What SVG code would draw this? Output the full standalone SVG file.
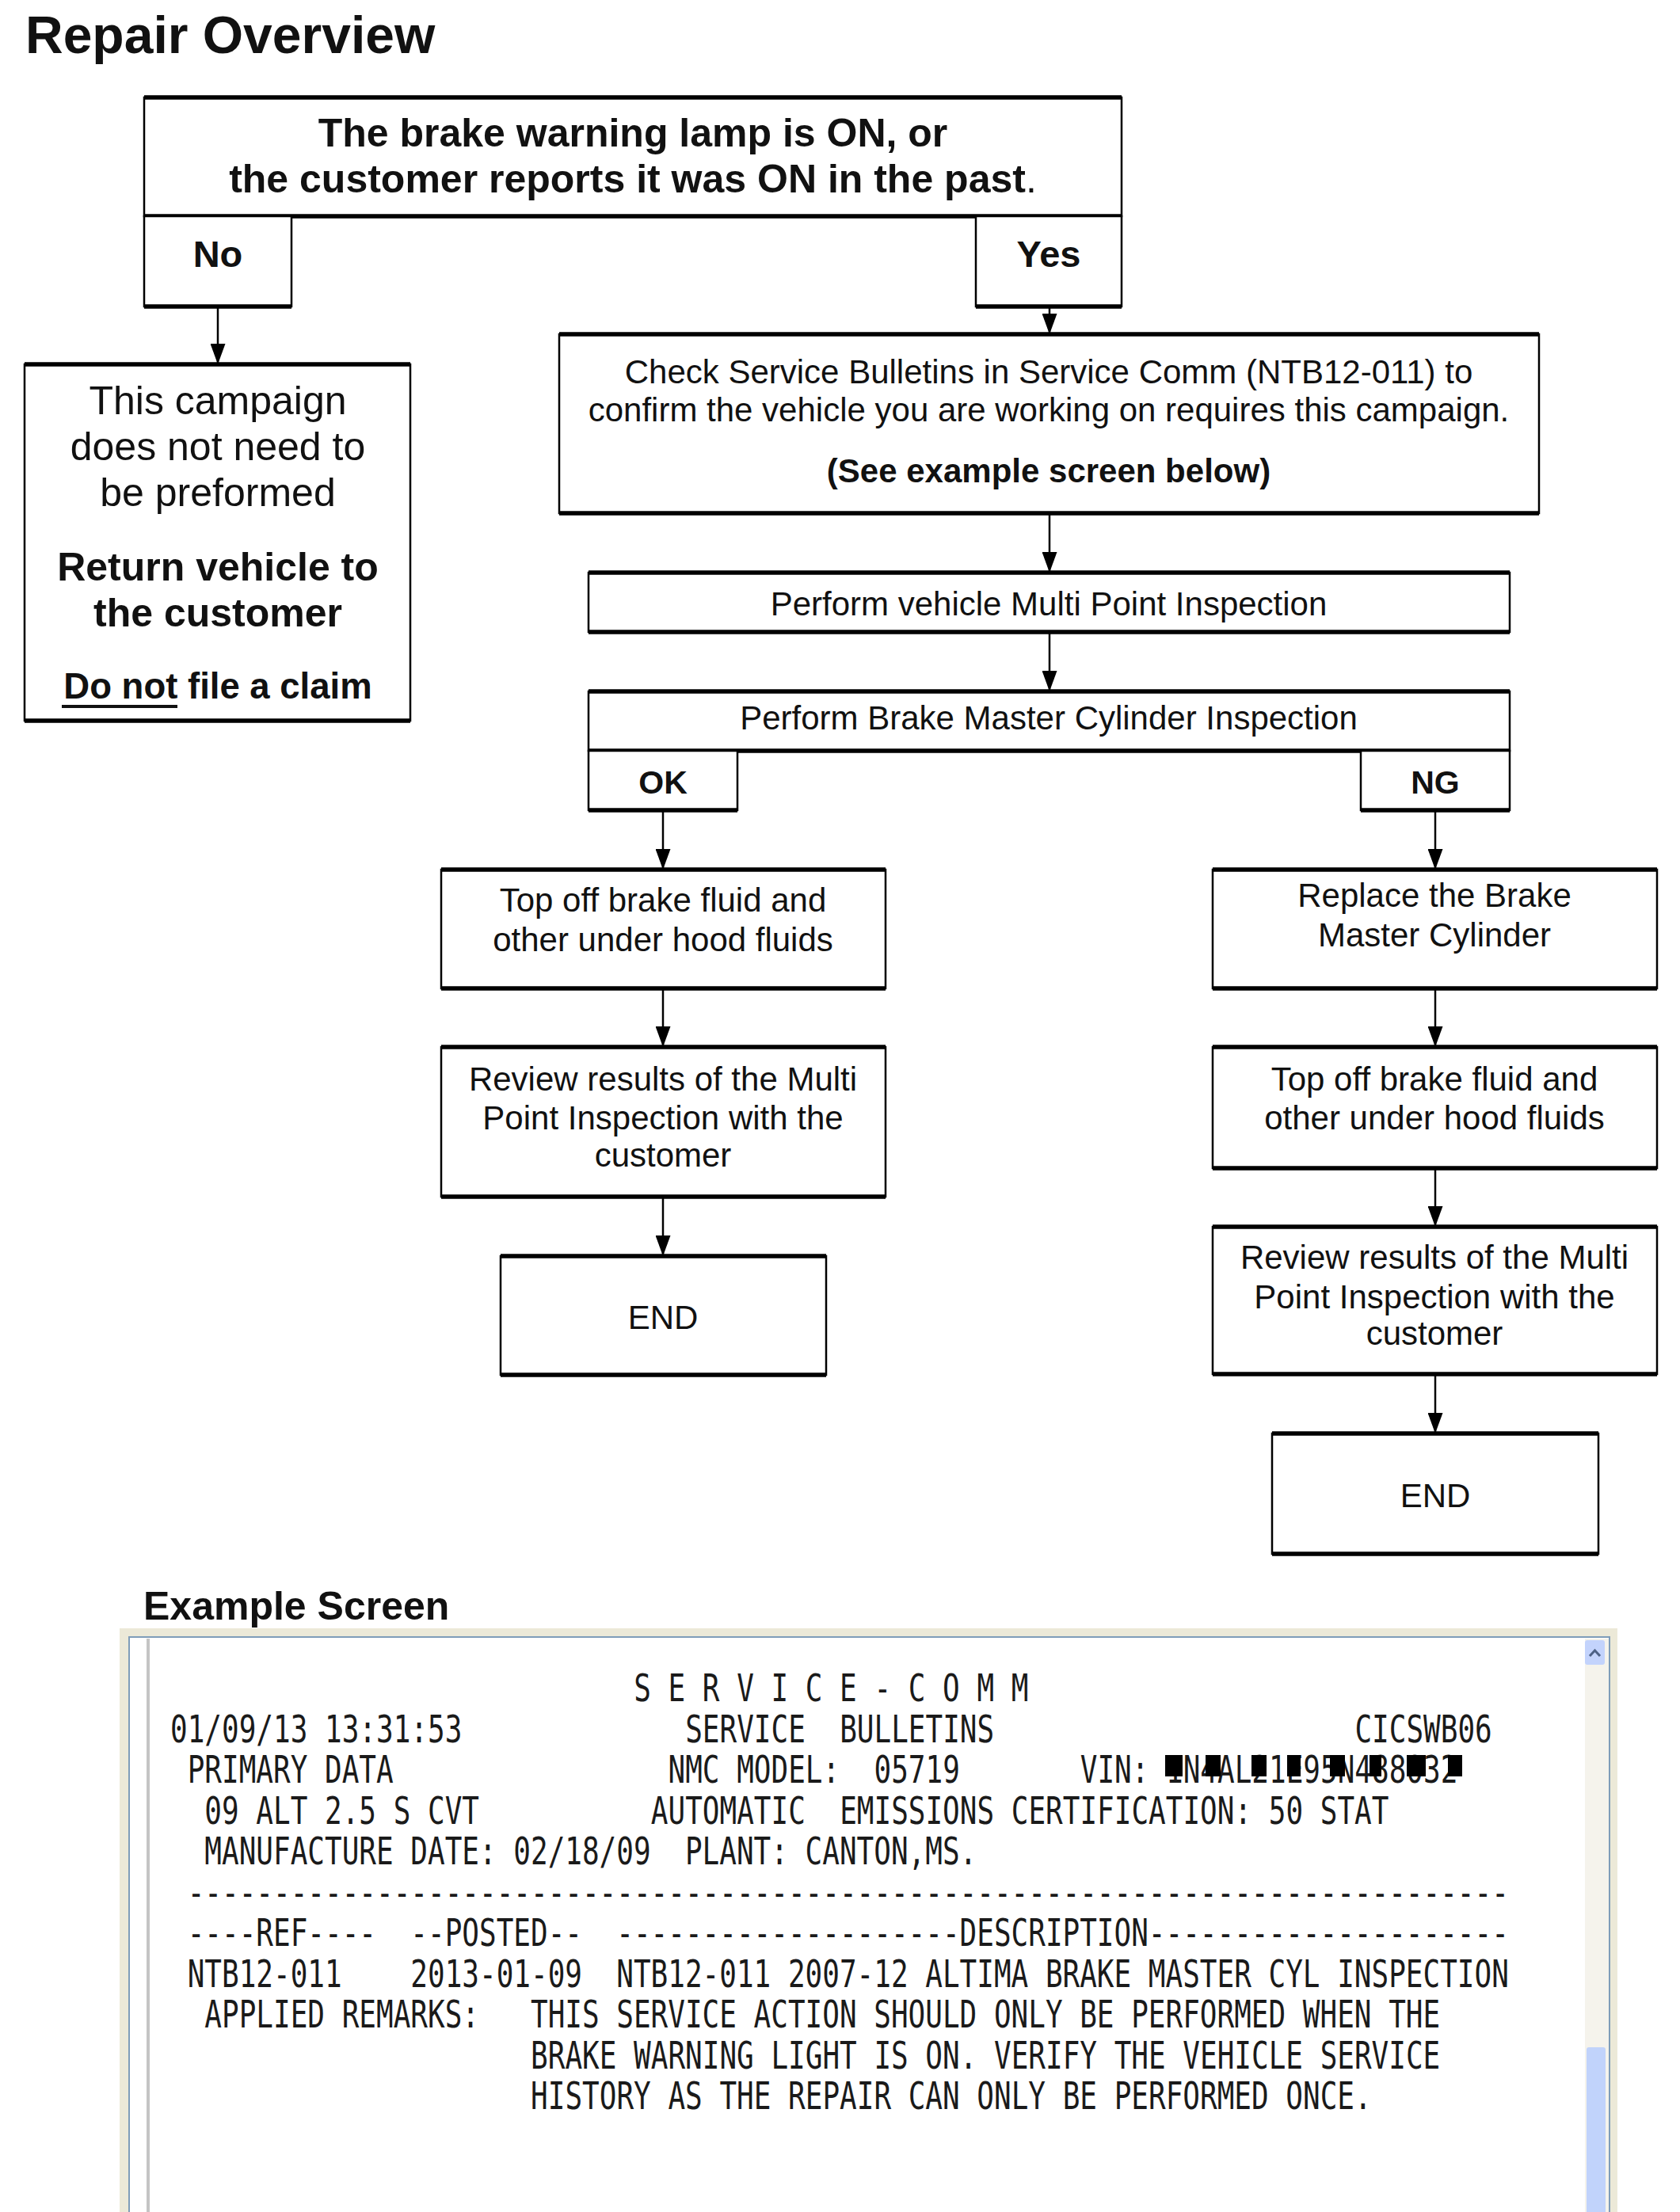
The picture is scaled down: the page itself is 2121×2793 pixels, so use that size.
<svg xmlns="http://www.w3.org/2000/svg" width="2121" height="2793" viewBox="0 0 2121 2793">
<style>
.box{fill:#fff;stroke:#000;stroke-width:2.5}
.edge{fill:none;stroke:#000;stroke-width:5.5}
.t{font-family:"Liberation Sans",Arial,sans-serif;fill:#111;text-anchor:middle}
.b{font-weight:bold}
.f42{font-size:42px}
.f50{font-size:50px}
.con{stroke:#000;stroke-width:2.5;fill:none;marker-end:url(#arr)}
.mono{font-family:"DejaVu Sans Mono","Liberation Mono",monospace;font-size:48px;fill:#1a1a1a;white-space:pre}
</style>
<defs>
<marker id="arr" viewBox="0 0 26 19" refX="26" refY="9.5" markerWidth="26" markerHeight="19" markerUnits="userSpaceOnUse" orient="auto">
<path d="M0,0 L26,9.5 L0,19 z" fill="#000"/>
</marker>
</defs>
<rect width="2121" height="2793" fill="#fff"/>
<text x="32" y="67" font-family="Liberation Sans,Arial,sans-serif" font-size="66" font-weight="bold" fill="#111">Repair Overview</text>

<g id="connectors">
<line class="con" x1="275" y1="387" x2="275" y2="460"/>
<line class="con" x1="1325" y1="387" x2="1325" y2="422"/>
<line class="con" x1="1325" y1="648" x2="1325" y2="723"/>
<line class="con" x1="1325" y1="798" x2="1325" y2="873"/>
<line class="con" x1="837" y1="1023" x2="837" y2="1098"/>
<line class="con" x1="1812" y1="1023" x2="1812" y2="1098"/>
<line class="con" x1="837" y1="1248" x2="837" y2="1322"/>
<line class="con" x1="837" y1="1511" x2="837" y2="1586"/>
<line class="con" x1="1812" y1="1248" x2="1812" y2="1322"/>
<line class="con" x1="1812" y1="1475" x2="1812" y2="1549"/>
<line class="con" x1="1812" y1="1735" x2="1812" y2="1810"/>
</g>

<g id="n-lamp">
<rect class="box" x="182" y="123" width="1234" height="150"/>
<path class="edge" d="M182,123 H1416 M182,273 H1416"/>
<text class="t b f50" x="799" y="185">The brake warning lamp is ON, or</text>
<text class="t b f50" x="799" y="243">the customer reports it was ON in the past<tspan font-weight="normal">.</tspan></text>
</g>
<g id="n-no">
<rect class="box" x="182" y="273" width="186" height="114"/>
<path class="edge" d="M182,387 H368"/>
<text class="t b" font-size="47" x="275" y="337">No</text>
</g>
<g id="n-yes">
<rect class="box" x="1232" y="273" width="184" height="114"/>
<path class="edge" d="M1232,387 H1416"/>
<text class="t b" font-size="47" x="1324" y="337">Yes</text>
</g>

<g id="n-notneeded">
<rect class="box" x="31" y="460" width="487" height="450"/>
<path class="edge" d="M31,460 H518 M31,910 H518"/>
<text class="t f50" x="275" y="523">This campaign</text>
<text class="t f50" x="275" y="581">does not need to</text>
<text class="t f50" x="275" y="639">be preformed</text>
<text class="t b f50" x="275" y="733">Return vehicle to</text>
<text class="t b f50" x="275" y="791">the customer</text>
<text class="t b" font-size="45.5" x="275" y="882">Do not file a claim</text>
<line x1="78" y1="892" x2="224" y2="892" stroke="#111" stroke-width="4"/>
</g>

<g id="n-check">
<rect class="box" x="706" y="422" width="1237" height="226"/>
<path class="edge" d="M706,422 H1943 M706,648 H1943"/>
<text class="t f42" x="1324" y="484">Check Service Bulletins in Service Comm (NTB12-011) to</text>
<text class="t f42" x="1324" y="532">confirm the vehicle you are working on requires this campaign.</text>
<text class="t b f42" x="1324" y="609">(See example screen below)</text>
</g>

<g id="n-mpi">
<rect class="box" x="743" y="723" width="1163" height="75"/>
<path class="edge" d="M743,723 H1906 M743,798 H1906"/>
<text class="t f42" x="1324" y="777">Perform vehicle Multi Point Inspection</text>
</g>

<g id="n-bmc">
<rect class="box" x="743" y="873" width="1163" height="75"/>
<path class="edge" d="M743,873 H1906 M743,948 H1906"/>
<text class="t f42" x="1324" y="921">Perform Brake Master Cylinder Inspection</text>
</g>
<g id="n-ok">
<rect class="box" x="743" y="948" width="188" height="75"/>
<path class="edge" d="M743,1023 H931"/>
<text class="t b" font-size="41" x="837" y="1002">OK</text>
</g>
<g id="n-ng">
<rect class="box" x="1718" y="948" width="188" height="75"/>
<path class="edge" d="M1718,1023 H1906"/>
<text class="t b" font-size="41" x="1812" y="1002">NG</text>
</g>

<g id="n-l-topoff">
<rect class="box" x="557" y="1098" width="561" height="150"/>
<path class="edge" d="M557,1098 H1118 M557,1248 H1118"/>
<text class="t f42" x="837" y="1151">Top off brake fluid and</text>
<text class="t f42" x="837" y="1201">other under hood fluids</text>
</g>
<g id="n-l-review">
<rect class="box" x="557" y="1322" width="561" height="189"/>
<path class="edge" d="M557,1322 H1118 M557,1511 H1118"/>
<text class="t f42" x="837" y="1377">Review results of the Multi</text>
<text class="t f42" x="837" y="1426">Point Inspection with the</text>
<text class="t f42" x="837" y="1473">customer</text>
</g>
<g id="n-l-end">
<rect class="box" x="632" y="1586" width="411" height="150"/>
<path class="edge" d="M632,1586 H1043 M632,1736 H1043"/>
<text class="t f42" x="837" y="1678">END</text>
</g>

<g id="n-r-replace">
<rect class="box" x="1531" y="1098" width="561" height="150"/>
<path class="edge" d="M1531,1098 H2092 M1531,1248 H2092"/>
<text class="t f42" x="1811" y="1145">Replace the Brake</text>
<text class="t f42" x="1811" y="1195">Master Cylinder</text>
</g>
<g id="n-r-topoff">
<rect class="box" x="1531" y="1322" width="561" height="153"/>
<path class="edge" d="M1531,1322 H2092 M1531,1475 H2092"/>
<text class="t f42" x="1811" y="1377">Top off brake fluid and</text>
<text class="t f42" x="1811" y="1426">other under hood fluids</text>
</g>
<g id="n-r-review">
<rect class="box" x="1531" y="1549" width="561" height="186"/>
<path class="edge" d="M1531,1549 H2092 M1531,1735 H2092"/>
<text class="t f42" x="1811" y="1602">Review results of the Multi</text>
<text class="t f42" x="1811" y="1652">Point Inspection with the</text>
<text class="t f42" x="1811" y="1698">customer</text>
</g>
<g id="n-r-end">
<rect class="box" x="1606" y="1810" width="412" height="152"/>
<path class="edge" d="M1606,1810 H2018 M1606,1962 H2018"/>
<text class="t f42" x="1812" y="1903">END</text>
</g>

<g id="example-screen">
<text x="181" y="2045" font-family="Liberation Sans,Arial,sans-serif" font-size="50" font-weight="bold" fill="#111">Example Screen</text>
<rect x="151" y="2056" width="1891" height="760" fill="#ece9d8"/>
<rect x="163" y="2067" width="1869" height="760" fill="#fff" stroke="#7f9db9" stroke-width="2"/>
<rect x="185" y="2069" width="4" height="740" fill="#c4c4c4"/>
<rect x="2001" y="2069" width="30" height="740" fill="#f5f3ec"/>
<rect x="2001" y="2071" width="25" height="31" rx="3" fill="#c3d3fc"/>
<path d="M2007,2091 L2013.5,2084 L2020,2091" fill="none" stroke="#4d6185" stroke-width="3"/>
<rect x="2003" y="2585" width="24" height="230" rx="3" fill="#c1d3fb"/>
<g transform="scale(0.75,1)" class="mono">
<text xml:space="preserve" x="1066.9" y="2148">S E R V I C E - C O M M</text>
<text xml:space="preserve" x="286.7" y="2200">01/09/13 13:31:53</text>
<text xml:space="preserve" x="1153.6" y="2200">SERVICE  BULLETINS</text>
<text xml:space="preserve" x="2280.6" y="2200">CICSWB06</text>
<text xml:space="preserve" x="315.6" y="2251">PRIMARY DATA</text>
<text xml:space="preserve" x="1124.7" y="2251">NMC MODEL:  05719</text>
<text xml:space="preserve" x="1818.3" y="2251">VIN: 1N4AL21E95N488032</text>
<text xml:space="preserve" x="344.5" y="2303">09 ALT 2.5 S CVT</text>
<text xml:space="preserve" x="1095.8" y="2303">AUTOMATIC  EMISSIONS CERTIFICATION: 50 STAT</text>
<text xml:space="preserve" x="344.5" y="2354">MANUFACTURE DATE: 02/18/09  PLANT: CANTON,MS.</text>
<text xml:space="preserve" x="315.6" y="2406">-----------------------------------------------------------------------------</text>
<text xml:space="preserve" x="315.6" y="2457">----REF----  --POSTED--  --------------------DESCRIPTION---------------------</text>
<text xml:space="preserve" x="315.6" y="2509">NTB12-011    2013-01-09  NTB12-011 2007-12 ALTIMA BRAKE MASTER CYL INSPECTION</text>
<text xml:space="preserve" x="344.5" y="2560">APPLIED REMARKS:   THIS SERVICE ACTION SHOULD ONLY BE PERFORMED WHEN THE</text>
<text xml:space="preserve" x="893.5" y="2612">BRAKE WARNING LIGHT IS ON. VERIFY THE VEHICLE SERVICE</text>
<text xml:space="preserve" x="893.5" y="2663">HISTORY AS THE REPAIR CAN ONLY BE PERFORMED ONCE.</text>
</g>
<g fill="#000">
<rect x="1471" y="2216" width="22" height="27"/>
<rect x="1522" y="2216" width="19" height="27"/>
<rect x="1580" y="2216" width="19" height="27"/>
<rect x="1625" y="2216" width="17" height="27"/>
<rect x="1679" y="2216" width="19" height="27"/>
<rect x="1729" y="2216" width="15" height="27"/>
<rect x="1776" y="2216" width="24" height="27"/>
<rect x="1828" y="2216" width="18" height="27"/>
</g>
</g>
</svg>
